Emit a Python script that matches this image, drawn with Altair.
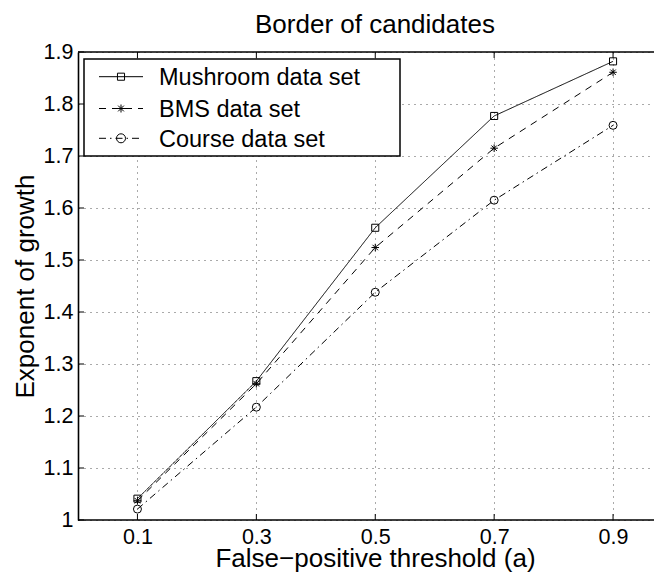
import altair as alt
import pandas as pd

# ---- data ----
thresholds = [0.1, 0.3, 0.5, 0.7, 0.9]
series_names = ["Mushroom data set", "BMS data set", "Course data set"]
mushroom = [1.041, 1.267, 1.562, 1.777, 1.882]
bms = [1.037, 1.262, 1.524, 1.715, 1.861]
course = [1.021, 1.217, 1.438, 1.615, 1.759]
x_ticks = [0.1, 0.3, 0.5, 0.7, 0.9]
y_ticks = [1.0, 1.1, 1.2, 1.3, 1.4, 1.5, 1.6, 1.7, 1.8, 1.9]
chart_title = "Border of candidates"

rows = []
for name, vals in zip(series_names, [mushroom, bms, course]):
    for t, v in zip(thresholds, vals):
        rows.append({"x": t, "y": v, "series": name})
df = pd.DataFrame(rows)

FONT = "Liberation Sans"
W, H = 576, 468
XMAX = W / 594.5
ASTERISK = "M-1,0L1,0M0,-1L0,1M-0.72,-0.72L0.72,0.72M-0.72,0.72L0.72,-0.72"
dashes = [[1, 0], [7, 6], [7, 4, 1.5, 4]]
shapes = ["square", ASTERISK, "circle"]
sizes = [50, 64, 81]

xscale = alt.Scale(domain=[0, XMAX], nice=False, zero=False)
yscale = alt.Scale(domain=[1.0, 1.9], nice=False, zero=False)

xaxis = alt.Axis(
    values=x_ticks, format=".1f", title="False\u2212positive threshold (a)",
    titleFont=FONT, titleFontSize=26, titleFontWeight="normal", titleColor="black",
    titleX=297, titleY=46, titleBaseline="alphabetic",
    labelFont=FONT, labelFontSize=21.5, labelColor="black", labelPadding=23,
    labelBaseline="alphabetic", labelFlush=False,
    ticks=False, tickSize=0, domain=False,
    grid=True, gridDash=[1, 5], gridColor="#555555", gridWidth=1, gridOpacity=1,
)
yaxis = alt.Axis(
    values=y_ticks, title="Exponent of growth",
    labelExpr="datum.value == 1 ? '1' : format(datum.value, '.1f')",
    titleFont=FONT, titleFontSize=26, titleFontWeight="normal", titleColor="black",
    titleX=-45, titleBaseline="alphabetic",
    labelFont=FONT, labelFontSize=21.5, labelColor="black", labelPadding=5,
    labelFlush=False, labelOverlap=False,
    ticks=False, tickSize=0, domainColor="black", domainWidth=1.6,
    grid=True, gridDash=[1, 5], gridColor="#555555", gridWidth=1, gridOpacity=1,
)

X = alt.X("x:Q", scale=xscale, axis=xaxis)
Y = alt.Y("y:Q", scale=yscale, axis=yaxis)

base = alt.Chart(df)

lines = base.mark_line(color="black", strokeWidth=1).encode(
    x=X, y=Y,
    detail="series:N",
    strokeDash=alt.StrokeDash("series:N", scale=alt.Scale(domain=series_names, range=dashes), legend=None),
)
points = base.mark_point(color="black", filled=False, strokeWidth=1, opacity=1).encode(
    x=X, y=Y,
    shape=alt.Shape("series:N", scale=alt.Scale(domain=series_names, range=shapes), legend=None),
    size=alt.Size("series:N", scale=alt.Scale(domain=series_names, range=sizes), legend=None),
)

one = pd.DataFrame({"k": [0]})
top_border = alt.Chart(one).mark_rule(color="black", strokeWidth=1.6).encode(
    x=alt.value(0), x2=alt.value(W), y=alt.value(0)
)
bottom_border = alt.Chart(one).mark_rule(color="black", strokeWidth=1.6).encode(
    x=alt.value(0), x2=alt.value(W), y=alt.value(H)
)
title_text = alt.Chart(pd.DataFrame({"t": [chart_title]})).mark_text(
    align="center", baseline="alphabetic", font=FONT, fontSize=26, color="black"
).encode(x=alt.value(297), y=alt.value(-19), text="t:N")

xt = pd.DataFrame({"x": x_ticks})
yt = pd.DataFrame({"y": y_ticks})
xticks_bottom = alt.Chart(xt).mark_rule(color="black", strokeWidth=1).encode(
    x=X, y=alt.value(H), y2=alt.value(H - 6)
)
xticks_top = alt.Chart(xt).mark_rule(color="black", strokeWidth=1).encode(
    x=X, y=alt.value(0), y2=alt.value(6)
)
yticks_left = alt.Chart(yt).mark_rule(color="black", strokeWidth=1).encode(
    y=Y, x=alt.value(0), x2=alt.value(6)
)

# legend box
legend_box = alt.Chart(one).mark_rect(fill="white", stroke="black", strokeWidth=1.5).encode(
    x=alt.value(6), x2=alt.value(322), y=alt.value(7), y2=alt.value(104)
)
legend_layers = [legend_box]
row_y = [24.7, 56.5, 86.3]
text_y = [33, 64.5, 95]
for i, name in enumerate(series_names):
    d = pd.DataFrame({"series": [name]})
    legend_layers.append(
        alt.Chart(d).mark_rule(color="black", strokeWidth=1, strokeDash=dashes[i]).encode(
            x=alt.value(21), x2=alt.value(65), y=alt.value(row_y[i])
        )
    )
    legend_layers.append(
        alt.Chart(d).mark_point(color="black", filled=False, strokeWidth=1, opacity=1,
                                shape=shapes[i], size=sizes[i]).encode(
            x=alt.value(43), y=alt.value(row_y[i])
        )
    )
    legend_layers.append(
        alt.Chart(d).mark_text(align="left", baseline="alphabetic", font=FONT,
                               fontSize=23.5, color="black").encode(
            x=alt.value(81), y=alt.value(text_y[i]), text="series:N"
        )
    )

chart = alt.layer(
    lines, points, xticks_bottom, xticks_top, yticks_left, top_border, bottom_border,
    title_text, *legend_layers
).properties(
    width=W, height=H,
    autosize=alt.AutoSizeParams(type="none"),
    padding={"left": 70, "top": 44, "right": 0, "bottom": 54},
    background="white",
).configure_view(stroke=None)

chart.save("out.html", embed_options={"renderer": "svg", "actions": False})
